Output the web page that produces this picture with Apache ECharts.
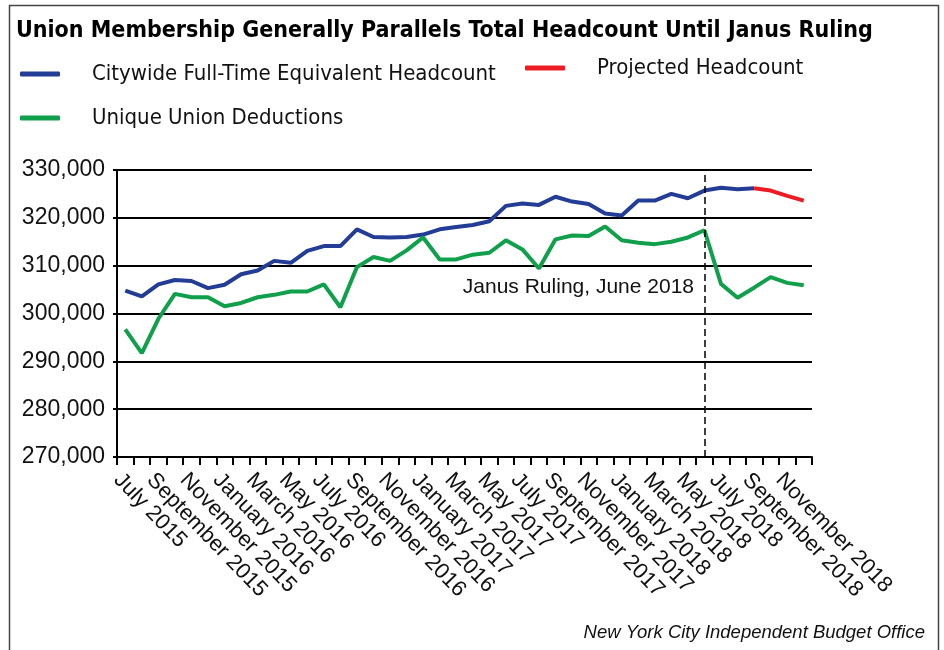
<!DOCTYPE html>
<html>
<head>
<meta charset="utf-8">
<script src="https://cdn.jsdelivr.net/npm/echarts@6/dist/echarts.min.js"></script>
<style>html,body{margin:0;padding:0;background:#fff}#c{width:944px;height:650px}</style>
</head>
<body>
<div id="c"></div>
<script>
const months = ['January','February','March','April','May','June','July','August','September','October','November','December'];
const categories = [];
for (let y = 2015; y <= 2018; y++) { for (let m = 0; m < 12; m++) { if (y === 2015 && m < 6) continue; categories.push(months[m] + ' ' + y); } }

const headcount = [304800,303600,306100,307000,306800,305300,306000,308200,309000,311000,310600,313100,314100,314100,317600,316000,315900,316000,316500,317600,318100,318500,319300,322500,323000,322700,324400,323400,322900,320900,320500,323600,323600,325000,324100,325700,326300,326000,326200,null,null,null];
const projected = [null,null,null,null,null,null,null,null,null,null,null,null,null,null,null,null,null,null,null,null,null,null,null,null,null,null,null,null,null,null,null,null,null,null,null,null,null,null,326200,325700,324600,323600];
const deductions = [296700,291700,298900,304100,303400,303400,301500,302200,303400,303900,304600,304600,306100,301300,309700,311800,311000,313200,315900,311300,311300,312300,312700,315300,313400,309400,315500,316300,316200,318200,315300,314800,314500,315000,315900,317400,306200,303300,305400,307600,306400,305900];
const yTicks = {min: 270000, max: 330000, interval: 10000};
const janusMonth = 'June 2018';

const NARROW = "'Liberation Sans Narrow','DejaVu Sans Condensed','Liberation Sans',sans-serif";
const SANS = "'Liberation Sans',Arial,sans-serif";
const BLUE = '#233d96', GREEN = '#10a04b', RED = '#ed1c24';

const chart = echarts.init(document.getElementById('c'), null, {renderer: 'canvas'});
const legendBase = {orient: 'horizontal', itemWidth: 40, itemHeight: 5, icon: 'roundRect', padding: 0,
  textStyle: {fontFamily: NARROW, fontSize: 22, color: '#111', padding: [0,0,0,27]}};
chart.setOption({
  animation: false,
  backgroundColor: '#fff',
  title: {text: 'Union Membership Generally Parallels Total Headcount Until Janus Ruling', left: 11, top: 15,
    textStyle: {fontFamily: NARROW, fontWeight: 'bold', fontSize: 23, color: '#000'}},
  legend: [
    Object.assign({}, legendBase, {left: 20, top: 63, data: ['Citywide Full-Time Equivalent Headcount']}),
    Object.assign({}, legendBase, {left: 525, top: 57, data: ['Projected Headcount']}),
    Object.assign({}, legendBase, {left: 20, top: 107, data: ['Unique Union Deductions']})
  ],
  grid: {left: 117, top: 170, width: 695, height: 287, containLabel: false},
  xAxis: {type: 'category', data: categories, boundaryGap: true,
    axisLine: {lineStyle: {color: '#000', width: 2}},
    axisTick: {show: true, interval: 0, length: 8, lineStyle: {color: '#000', width: 2}},
    axisLabel: {interval: 1, rotate: -46, margin: 12, verticalAlign: 'top', fontFamily: SANS, fontSize: 22, color: '#111'},
    splitLine: {show: false}},
  yAxis: {type: 'value', min: yTicks.min, max: yTicks.max, interval: yTicks.interval,
    axisLine: {show: true, lineStyle: {color: '#000', width: 2}},
    axisTick: {show: true, length: 4, lineStyle: {color: '#000', width: 2}},
    axisLabel: {margin: 12, fontFamily: SANS, fontSize: 23, color: '#111',
      formatter: v => v.toLocaleString('en-US')},
    splitLine: {show: true, lineStyle: {color: '#000', width: 2.2}}},
  series: [
    {name: 'Citywide Full-Time Equivalent Headcount', type: 'line', data: headcount, symbol: 'none',
      lineStyle: {color: BLUE, width: 4}, itemStyle: {color: BLUE}, z: 3,
      markLine: {silent: true, symbol: 'none', label: {show: false},
        lineStyle: {color: '#000', type: [7, 4], width: 1.5},
        data: [{xAxis: janusMonth}]}},
    {name: 'Projected Headcount', type: 'line', data: projected, symbol: 'none',
      lineStyle: {color: RED, width: 4}, itemStyle: {color: RED}, z: 3},
    {name: 'Unique Union Deductions', type: 'line', data: deductions, symbol: 'none',
      lineStyle: {color: GREEN, width: 4}, itemStyle: {color: GREEN}, z: 3}
  ],
  graphic: [
    {type: 'rect', left: 7, top: 3, shape: {width: 929, height: 660}, style: {fill: 'none', stroke: '#444', lineWidth: 1.5}, silent: true},
    {type: 'text', right: 250, top: 277, style: {text: 'Janus Ruling, June 2018', font: "21px 'Liberation Sans',Arial,sans-serif", fill: '#111'}},
    {type: 'text', right: 19, top: 623, style: {text: 'New York City Independent Budget Office', font: "italic 18.5px 'Liberation Sans',Arial,sans-serif", fill: '#111'}}
  ]
});
</script>
</body>
</html>
